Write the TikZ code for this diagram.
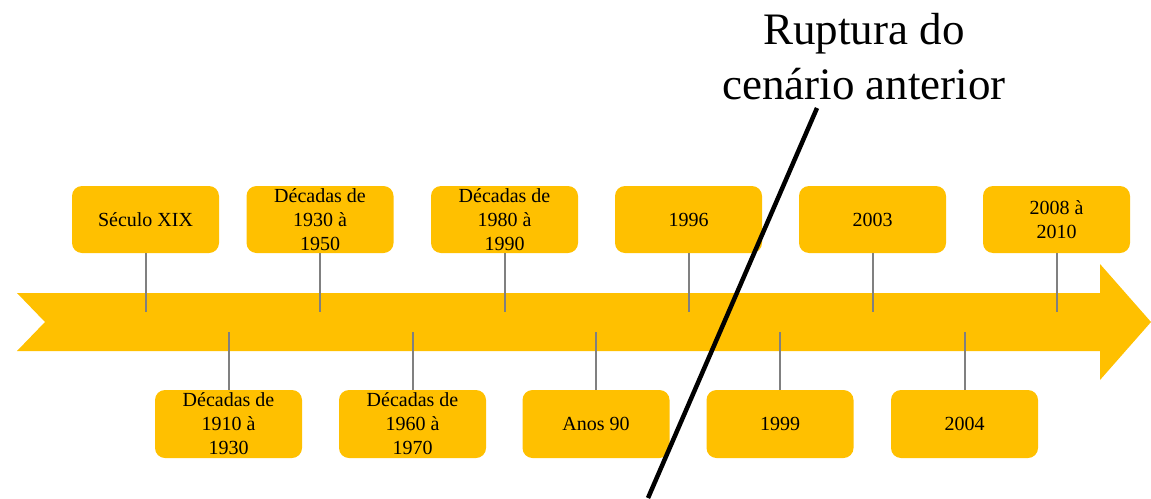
\documentclass[tikz,border=0pt]{standalone}
\usepackage{fontspec}
\setmainfont{Liberation Serif}
\definecolor{gold}{HTML}{FFC000}
\definecolor{stem}{HTML}{808080}
\begin{document}
\begin{tikzpicture}[x=1pt,y=-1pt,
  evbox/.style={fill=gold, draw=none, rounded corners=10pt, minimum width=147pt, minimum height=67pt,
    inner sep=0pt, align=center, font=\fontsize{20pt}{24pt}\selectfont},
  stemline/.style={draw=stem, line width=2pt},
  cutline/.style={draw=black, line width=4.5pt}]
\useasboundingbox (0,0) rectangle (1151,498);
% timeline band
\fill[gold] (17,293) -- (1100,293) -- (1100,264) -- (1151,322) -- (1100,380) -- (1100,351) -- (17,351) -- (45,322) -- cycle;
% stem end points on the band
\coordinate (t1) at (145.5,312);
\coordinate (t2) at (320,312);
\coordinate (t3) at (504.5,312);
\coordinate (t4) at (688.5,312);
\coordinate (t5) at (872.5,312);
\coordinate (t6) at (1056.5,312);
\coordinate (b1) at (228.5,332);
\coordinate (b2) at (412.5,332);
\coordinate (b3) at (596,332);
\coordinate (b4) at (780,332);
\coordinate (b5) at (964.5,332);
% top boxes
\node[evbox] (n1) at (145.5,219.5) {Século XIX};
\node[evbox] (n2) at (320,219.5) {Décadas de\\1930 à\\1950};
\node[evbox] (n3) at (504.5,219.5) {Décadas de\\1980 à\\1990};
\node[evbox] (n4) at (688.5,219.5) {1996};
\node[evbox] (n5) at (872.5,219.5) {2003};
\node[evbox] (n6) at (1056.5,219.5) {2008 à\\2010};
% bottom boxes
\node[evbox, minimum height=68pt] (m1) at (228.5,424) {Décadas de\\1910 à\\1930};
\node[evbox, minimum height=68pt] (m2) at (412.5,424) {Décadas de\\1960 à\\1970};
\node[evbox, minimum height=68pt] (m3) at (596,424) {Anos 90};
\node[evbox, minimum height=68pt] (m4) at (780,424) {1999};
\node[evbox, minimum height=68pt] (m5) at (964.5,424) {2004};
% stems
\foreach \i in {1,...,6} { \draw[stemline] (n\i.south) -- (t\i); }
\foreach \i in {1,...,5} { \draw[stemline] (b\i) -- (m\i.north); }
% rupture label and line
\node[inner sep=0pt, align=center, font=\fontsize{45pt}{55pt}\selectfont] (rup) at (864,57) {Ruptura do\\cenário anterior};
\coordinate (rt) at (817,108);
\coordinate (rb) at (648,498);
\draw[cutline] (rt) -- (rb);
\end{tikzpicture}
\end{document}
